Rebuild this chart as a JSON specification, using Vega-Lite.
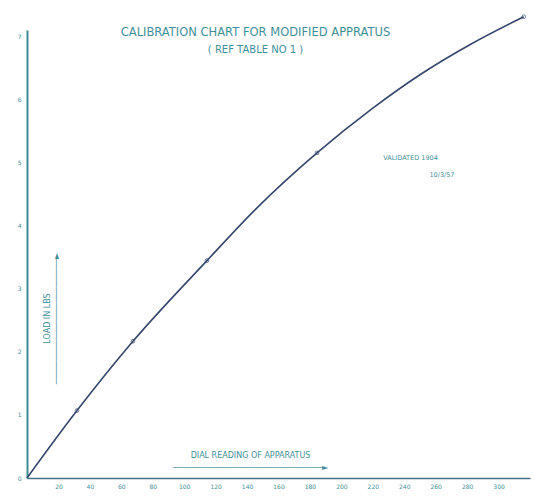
{
  "$schema": "https://vega.github.io/schema/vega-lite/v6.json",
  "width": 503,
  "height": 448,
  "autosize": "none",
  "padding": {"left": 27, "top": 30, "right": 5, "bottom": 18},
  "background": "white",
  "config": {"view": {"stroke": null}, "font": "DejaVu Sans"},
  "title": {
    "text": "CALIBRATION CHART FOR MODIFIED APPRATUS",
    "subtitle": "( REF  TABLE NO 1 )",
    "anchor": "middle",
    "frame": "group",
    "dx": -23,
    "offset": -42,
    "fontSize": 11.5,
    "fontWeight": "normal",
    "color": "#3f8f9a",
    "subtitleFontSize": 10,
    "subtitleColor": "#3f8f9a",
    "subtitlePadding": 6
  },
  "data": {
    "values": [
      {"dial": 0, "load": 0, "measured": false},
      {"dial": 31.8, "load": 1.07, "measured": true},
      {"dial": 67.4, "load": 2.17, "measured": true},
      {"dial": 114.5, "load": 3.45, "measured": true},
      {"dial": 146.0, "load": 4.28, "measured": false},
      {"dial": 184.5, "load": 5.16, "measured": true},
      {"dial": 220.0, "load": 5.87, "measured": false},
      {"dial": 250.0, "load": 6.40, "measured": false},
      {"dial": 282.0, "load": 6.88, "measured": false},
      {"dial": 316.0, "load": 7.32, "measured": true}
    ]
  },
  "encoding": {
    "x": {
      "field": "dial",
      "type": "quantitative",
      "scale": {"domain": [0, 320], "nice": false, "zero": true},
      "axis": {
        "values": [20, 40, 60, 80, 100, 120, 140, 160, 180, 200, 220, 240, 260, 280, 300],
        "format": "d",
        "labelOverlap": false,
        "grid": false,
        "ticks": false,
        "domainColor": "#4a7088",
        "domainWidth": 1.5,
        "labelFontSize": 6,
        "labelColor": "#3f8f9a",
        "labelPadding": 5,
        "title": ["DIAL READING OF APPARATUS", "───────────────────────────────►"],
        "titleFontSize": 8,
        "titleFontWeight": "normal",
        "titleColor": "#3f8f9a",
        "titleX": 223,
        "titleY": -27,
        "titleLineHeight": 12
      }
    },
    "y": {
      "field": "load",
      "type": "quantitative",
      "scale": {"domain": [0, 7.11], "nice": false, "zero": true},
      "axis": {
        "values": [0, 1, 2, 3, 4, 5, 6, 7],
        "format": "d",
        "labelOverlap": false,
        "grid": false,
        "ticks": false,
        "domainColor": "#3d8c96",
        "domainWidth": 2,
        "labelFontSize": 6,
        "labelColor": "#3f8f9a",
        "labelPadding": 6,
        "title": ["LOAD IN LBS", "──────────────────────────►"],
        "titleFontSize": 8,
        "titleFontWeight": "normal",
        "titleColor": "#3f8f9a",
        "titleX": 24,
        "titleY": 288,
        "titleLineHeight": 9
      }
    }
  },
  "layer": [
    {
      "mark": {"type": "line", "interpolate": "monotone", "color": "#34466b", "strokeWidth": 1.6}
    },
    {
      "transform": [{"filter": "datum.measured"}],
      "mark": {"type": "point", "shape": "circle", "size": 14, "filled": false, "color": "#34466b", "strokeWidth": 1}
    },
    {
      "transform": [{"filter": "datum.dial == 0"}],
      "mark": {"type": "text", "fontSize": 6.5, "color": "#3f8f9a", "align": "center", "text": "VALIDATED  1904"},
      "encoding": {
        "x": {"datum": 244},
        "y": {"datum": 5.08}
      }
    },
    {
      "transform": [{"filter": "datum.dial == 0"}],
      "mark": {"type": "text", "fontSize": 6.5, "color": "#3f8f9a", "align": "center", "text": "10/3/57"},
      "encoding": {
        "x": {"datum": 264},
        "y": {"datum": 4.81}
      }
    }
  ]
}
